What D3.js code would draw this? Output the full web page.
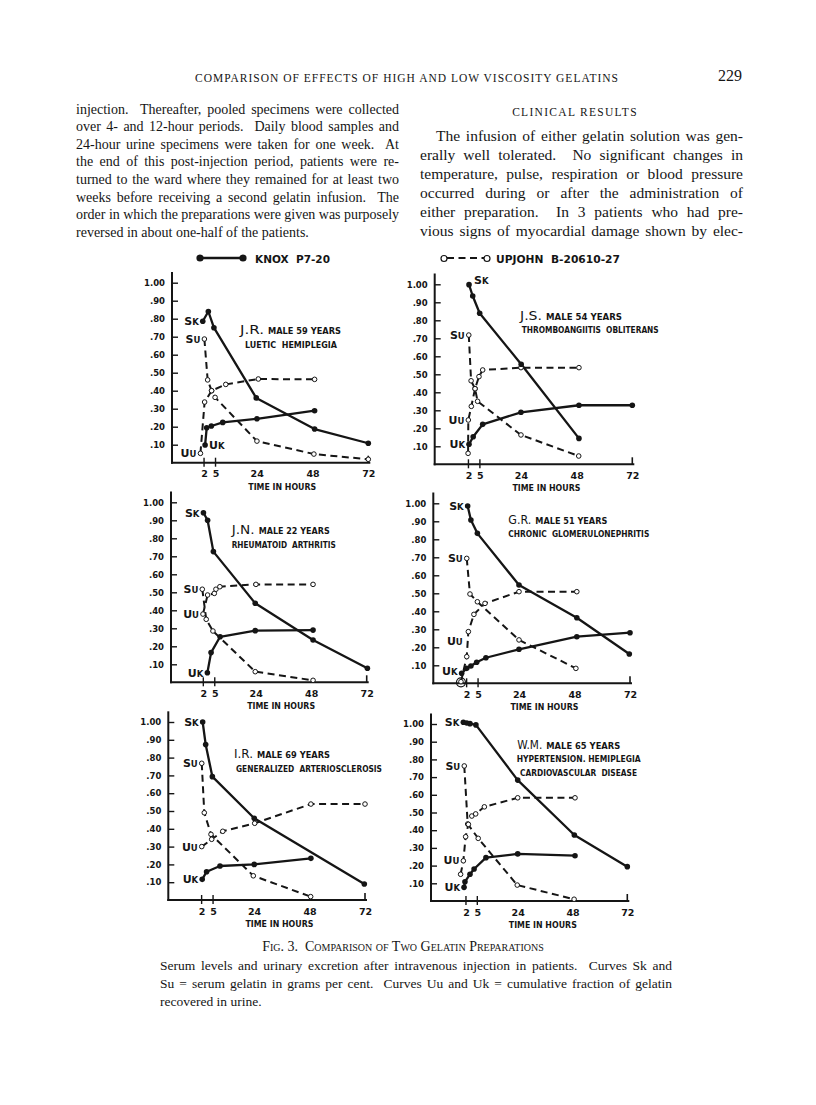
<!DOCTYPE html>
<html><head><meta charset="utf-8">
<script src="https://cdn.jsdelivr.net/npm/d3@7"></script>
<style>body{margin:0;background:#fff}svg{display:block}</style>
</head><body>
<script>
// ---------------- DATA ----------------
const timeTicks = [2, 5, 24, 48, 72];
const timeTickLabels = ["2", "5", "24", "48", "72"];
const valueTicks = [1.0, 0.9, 0.8, 0.7, 0.6, 0.5, 0.4, 0.3, 0.2, 0.1];
const valueTickLabels = ["1.00", ".90", ".80", ".70", ".60", ".50", ".40", ".30", ".20", ".10"];

const patientNames = ["J.R.", "J.S.", "J.N.", "G.R.", "I.R.", "W.M."];
const patientInfo = ["MALE 59 YEARS", "MALE 54 YEARS", "MALE 22 YEARS", "MALE 51 YEARS", "MALE 69 YEARS", "MALE 65 YEARS"];
const patientDiagnosis = [
  ["LUETIC  HEMIPLEGIA"],
  ["THROMBOANGIITIS  OBLITERANS"],
  ["RHEUMATOID  ARTHRITIS"],
  ["CHRONIC  GLOMERULONEPHRITIS"],
  ["GENERALIZED  ARTERIOSCLEROSIS"],
  ["HYPERTENSION. HEMIPLEGIA", "CARDIOVASCULAR  DISEASE"]
];

// [hours, value] — Sk/Uk = Knox P7-20, Su/Uu = Upjohn B-20610-27
const jrSk = [[0.8,0.786],[3.2,0.84],[5.6,0.75],[23.8,0.36],[48.9,0.187],[72,0.108]];
const jrSu = [[1.5,0.687],[2.9,0.46],[4.6,0.40],[6.1,0.363],[24.1,0.12],[48.6,0.048],[72,0.019]];
const jrUu = [[-0.2,0.052],[1.6,0.337],[4.6,0.40],[10.7,0.435],[24.7,0.465],[48.9,0.463]];
const jrUk = [[1.8,0.098],[2.5,0.194],[4.5,0.204],[9.4,0.224],[24.1,0.244],[48.9,0.289]];

const jsSk = [[1.6,0.998],[3.2,0.935],[6.2,0.839],[24.1,0.556],[49,0.144]];
const jsSu = [[1.5,0.718],[2.5,0.464],[4.2,0.42],[5.3,0.35],[24,0.163],[48.9,0.046]];
const jsUu = [[1.2,0.061],[1.3,0.246],[2.6,0.322],[4.2,0.42],[5.9,0.487],[7.5,0.524],[24,0.537],[49,0.537]];
const jsUk = [[1.6,0.111],[3.4,0.153],[7.5,0.222],[24,0.289],[49,0.328],[72,0.328]];

const jnSk = [[1.4,0.942],[3.2,0.90],[5.7,0.726],[23.8,0.439],[48.8,0.235],[72.3,0.078]];
const jnSu = [[0.9,0.517],[2.6,0.35],[5.5,0.285],[23.8,0.059],[48.8,0.011]];
const jnUu = [[1.2,0.379],[3.2,0.485],[6.1,0.494],[6.8,0.517],[8.5,0.531],[24.1,0.544],[48.8,0.544]];
const jnUk = [[3.1,0.053],[4.7,0.165],[8.6,0.253],[23.8,0.287],[48.8,0.29]];

const grSk = [[1.8,0.985],[3.2,0.907],[6.0,0.833],[24,0.546],[49,0.364],[71.7,0.163]];
const grSu = [[1.4,0.694],[2.8,0.496],[6.0,0.453],[24,0.241],[48.6,0.083]];
const grUu = [[-1.1,0.009],[1.4,0.148],[2.1,0.287],[4.5,0.383],[9.3,0.444],[24,0.509],[49,0.509]];
const grUk = [[-0.8,0.056],[1.4,0.083],[3.2,0.096],[5.7,0.117],[9.7,0.142],[24,0.189],[49,0.259],[72,0.281]];

const irSk = [[1.8,1.0],[3.1,0.874],[6.0,0.693],[24.1,0.459],[71.7,0.09]];
const irSu = [[1.4,0.768],[2.5,0.49],[5.4,0.369],[23.7,0.136],[48.5,0.019]];
const irUu = [[1.4,0.30],[5.7,0.341],[10.5,0.386],[24.3,0.431],[48.6,0.539],[72,0.539]];
const irUk = [[1.6,0.116],[3.5,0.159],[9.3,0.191],[24.1,0.20],[48.6,0.234]];

const wmSk = [[0.2,1.01],[1.7,1.006],[3.1,1.002],[5.7,0.995],[24,0.683],[48.8,0.373],[72,0.194]];
const wmSu = [[0.6,0.763],[2.1,0.435],[6.7,0.354],[23.8,0.09],[48.7,0.01]];
const wmUu = [[-1.0,0.151],[0.2,0.227],[1.2,0.363],[2.4,0.433],[3.9,0.48],[5.6,0.492],[9.4,0.532],[24,0.583],[49.1,0.583]];
const wmUk = [[0.5,0.077],[0.9,0.109],[3.1,0.151],[4.9,0.181],[10.1,0.245],[24,0.266],[49.1,0.256]];

const legendLabels = ["KNOX  P7-20", "UPJOHN  B-20610-27"];

const headerText = "COMPARISON OF EFFECTS OF HIGH AND LOW VISCOSITY GELATINS";
const pageNumber = "229";
const leftColumn = [
  "injection.  Thereafter, pooled specimens were collected",
  "over 4- and 12-hour periods.  Daily blood samples and",
  "24-hour urine specimens were taken for one week.  At",
  "the end of this post-injection period, patients were re-",
  "turned to the ward where they remained for at least two",
  "weeks before receiving a second gelatin infusion.  The",
  "order in which the preparations were given was purposely",
  "reversed in about one-half of the patients."
];
const rightHeading = "CLINICAL RESULTS";
const rightColumn = [
  "The infusion of either gelatin solution was gen-",
  "erally well tolerated.  No significant changes in",
  "temperature, pulse, respiration or blood pressure",
  "occurred during or after the administration of",
  "either preparation.  In 3 patients who had pre-",
  "vious signs of myocardial damage shown by elec-"
];
const captionTitle = "Fig. 3.  Comparison of Two Gelatin Preparations";
const captionLines = [
  "Serum levels and urinary excretion after intravenous injection in patients.  Curves Sk and",
  "Su = serum gelatin in grams per cent.  Curves Uu and Uk = cumulative fraction of gelatin",
  "recovered in urine."
];

// ---------------- LAYOUT ----------------
const W = 816, H = 1105;
const INK = "#151515";
const SERIF = "'Liberation Serif','DejaVu Serif',serif";
const SANS = "'DejaVu Sans','Liberation Sans',sans-serif";

const panels = [
  {series:{Sk:jrSk,Su:jrSu,Uu:jrUu,Uk:jrUk}, axisX:172, x0:200.9, x72:368.3, zeroY:462.7, oneY:282.7,
   title:[240,334], diag:[[245,348]],
   lab:{Sk:[0,-4,4,"end"],Su:[0,-4,4,"end"],Uu:[0,-4,4,"end"],Uk:[0,4,4,"start"]}},
  {series:{Sk:jsSk,Su:jsSu,Uu:jsUu,Uk:jsUk}, axisX:434.7, x0:465.3, x72:632.3, zeroY:464.3, oneY:284.3,
   title:[520,320], diag:[[521.7,333]],
   lab:{Sk:[0,5,-1,"start"],Su:[0,-4,4,"end"],Uu:[1,-4,4,"end"],Uk:[0,-4,4,"end"]}},
  {series:{Sk:jnSk,Su:jnSu,Uu:jnUu,Uk:jnUk}, axisX:171, x0:200.2, x72:366.7, zeroY:682.3, oneY:502.3,
   title:[231.7,533.5], diag:[[231.7,547.5]],
   lab:{Sk:[0,-4,4,"end"],Su:[0,-4,4,"end"],Uu:[0,-4,4,"end"],Uk:[0,-4,4,"end"]}},
  {series:{Sk:grSk,Su:grSu,Uu:grUu,Uk:grUk}, axisX:433.3, x0:463.5, x72:630, zeroY:683.3, oneY:503.3,
   title:[508.3,524], diag:[[508.3,537]],
   lab:{Sk:[0,-4,4,"end"],Su:[0,-4,4,"end"],Uu:[1,-4,-12,"end"],Uk:[0,-4,2,"end"]}},
  {series:{Sk:irSk,Su:irSu,Uu:irUu,Uk:irUk}, axisX:168.3, x0:198.5, x72:365, zeroY:900, oneY:722,
   title:[234,758], diag:[[236,772]],
   lab:{Sk:[0,-4,4,"end"],Su:[0,-4,4,"end"],Uu:[0,-4,4,"end"],Uk:[0,-4,4,"end"]}},
  {series:{Sk:wmSk,Su:wmSu,Uu:wmUu,Uk:wmUk}, axisX:431, x0:462.9, x72:627.3, zeroY:901, oneY:724,
   title:[517.3,748.5], diag:[[516.7,762],[520,775.5]],
   lab:{Sk:[0,-4,4,"end"],Su:[0,-4,4,"end"],Uu:[1,-4,3,"end"],Uk:[0,-4,4,"end"]}}
];
const diagWidths = [[92],[137],[104],[141],[146],[124,117]];
const infoWidths = [73,76,71,72,73,74];
const nameWidths = [24,22,23,23,19,25];
const timeLabelShift = [-1.5, 3, 0, 0, 0];

const svg = d3.select("body").append("svg").attr("width", W).attr("height", H)
  .style("background", "#fff");

// helper: text, optionally justified to a width via word-spacing
function text(g, x, y, s, o = {}) {
  const t = g.append("text").attr("x", x).attr("y", y).text(s)
    .attr("fill", INK)
    .style("font-family", o.family || SERIF)
    .style("font-size", (o.size || 14) + "px")
    .style("font-weight", o.weight || "normal")
    .attr("text-anchor", o.anchor || "start")
    .style("white-space", "pre");
  if (o.variant) t.style("font-variant", o.variant);
  if (o.spacing) t.style("letter-spacing", o.spacing + "px");
  if (o.width) {
    const nat = t.node().getComputedTextLength();
    const spaces = (s.match(/ /g) || []).length;
    if (o.justify && spaces > 0 && nat < o.width) {
      t.style("word-spacing", ((o.width - nat) / spaces) + "px");
    } else {
      t.attr("textLength", o.width).attr("lengthAdjust", o.glyphs ? "spacingAndGlyphs" : "spacing");
    }
  }
  return t;
}

// ---------- page header ----------
text(svg, 195, 81.5, headerText, {size: 11.5, width: 423});
text(svg, 742, 81, pageNumber, {size: 16, anchor: "end"});

// ---------- left column ----------
leftColumn.forEach((s, i) => {
  const last = i === leftColumn.length - 1;
  text(svg, 76, 113.5 + i * 17.6, s, {size: 14, width: last ? null : 323, justify: true});
});

// ---------- right column ----------
text(svg, 575, 115.5, rightHeading, {size: 11.5, anchor: "middle", spacing: 1.3});
rightColumn.forEach((s, i) => {
  const x0 = i === 0 ? 436 : 420;
  text(svg, x0, 140.5 + i * 19.1, s, {size: 15.5, width: 743 - x0, justify: true});
});

// ---------- legend ----------
const leg = svg.append("g");
leg.append("line").attr("x1", 200).attr("x2", 243).attr("y1", 258).attr("y2", 258)
  .attr("stroke", INK).attr("stroke-width", 2.6);
[200, 243].forEach(cx => leg.append("circle").attr("cx", cx).attr("cy", 258).attr("r", 3.6).attr("fill", INK));
text(leg, 255, 262.5, legendLabels[0], {family: SANS, size: 11, weight: "bold", width: 75, glyphs: true});
leg.append("line").attr("x1", 447).attr("x2", 484).attr("y1", 258).attr("y2", 258)
  .attr("stroke", INK).attr("stroke-width", 2).attr("stroke-dasharray", "7,4.5");
[444, 487].forEach(cx => leg.append("circle").attr("cx", cx).attr("cy", 258.5).attr("r", 3)
  .attr("fill", "#fff").attr("stroke", INK).attr("stroke-width", 1.2));
text(leg, 496, 262.5, legendLabels[1], {family: SANS, size: 11, weight: "bold", width: 124, glyphs: true});

// ---------- panels ----------
const line = (x, y) => d3.line().x(d => x(d[0])).y(d => y(d[1]));

panels.forEach((p, pi) => {
  const g = svg.append("g");
  const x = d3.scaleLinear().domain([0, 72]).range([p.x0, p.x72]);
  const y = d3.scaleLinear().domain([0, 1]).range([p.zeroY, p.oneY]);

  // y axis
  const ya = g.append("g").attr("transform", `translate(${p.axisX},0)`)
    .call(d3.axisLeft(y).tickValues(valueTicks)
      .tickFormat((d, i) => valueTickLabels[i])
      .tickSizeInner(-6).tickSizeOuter(0).tickPadding(7));
  ya.select(".domain").remove();
  ya.selectAll(".tick line").attr("stroke", INK).attr("stroke-width", 1.4);
  ya.selectAll(".tick text").attr("fill", INK)
    .style("font-family", SANS).style("font-size", "8.5px").style("font-weight", "bold");
  g.append("line").attr("x1", p.axisX).attr("x2", p.axisX)
    .attr("y1", y(0) + 1).attr("y2", y(1.06))
    .attr("stroke", INK).attr("stroke-width", 2);

  // x axis
  const xa = g.append("g").attr("transform", `translate(0,${p.zeroY})`)
    .call(d3.axisBottom(x).tickValues(timeTicks)
      .tickFormat((d, i) => timeTickLabels[i])
      .tickSizeInner(0).tickSizeOuter(0).tickPadding(8));
  xa.select(".domain").remove();
  xa.selectAll(".tick line").remove();
  xa.selectAll(".tick text").attr("fill", INK)
    .attr("dx", (d, i) => timeLabelShift[i])
    .style("font-family", SANS).style("font-size", "9.5px").style("font-weight", "bold");
  g.append("line").attr("x1", p.axisX - 1).attr("x2", x(72) + 2)
    .attr("y1", p.zeroY).attr("y2", p.zeroY)
    .attr("stroke", INK).attr("stroke-width", 2);
  [2, 5].forEach((t, i) => g.append("line").attr("x1", x(t) + timeLabelShift[i]).attr("x2", x(t) + timeLabelShift[i])
    .attr("y1", p.zeroY - 5).attr("y2", p.zeroY + 4).attr("stroke", INK).attr("stroke-width", 1.4));
  g.append("line").attr("x1", x(72)).attr("x2", x(72))
    .attr("y1", p.zeroY - 7).attr("y2", p.zeroY).attr("stroke", INK).attr("stroke-width", 1.6);

  text(g, x(35), p.zeroY + 27, "TIME IN HOURS", {family: SANS, size: 9.5, weight: "bold",
    anchor: "middle", width: 68, glyphs: true});

  // titles
  text(g, p.title[0], p.title[1], patientNames[pi], {family: SANS, size: 12.5, width: nameWidths[pi], glyphs: true});
  text(g, p.title[0] + nameWidths[pi] + 4, p.title[1], patientInfo[pi],
    {family: SANS, size: 9.5, weight: "bold", width: infoWidths[pi], glyphs: true});
  p.diag.forEach((pos, j) => text(g, pos[0], pos[1], patientDiagnosis[pi][j],
    {family: SANS, size: 9, weight: "bold", width: diagWidths[pi][j], glyphs: true}));

  // curves
  const mk = line(x, y);
  ["Su", "Uu"].forEach(k => {
    g.append("path").datum(p.series[k]).attr("d", mk).attr("fill", "none")
      .attr("stroke", INK).attr("stroke-width", 2).attr("stroke-dasharray", "7,4.5");
  });
  ["Sk", "Uk"].forEach(k => {
    g.append("path").datum(p.series[k]).attr("d", mk).attr("fill", "none")
      .attr("stroke", INK).attr("stroke-width", 2.3).attr("stroke-linejoin", "round");
  });
  ["Su", "Uu"].forEach(k => {
    g.selectAll(null).data(p.series[k]).enter().append("circle")
      .attr("cx", d => x(d[0])).attr("cy", d => y(d[1])).attr("r", 2.3)
      .attr("fill", "#fff").attr("stroke", INK).attr("stroke-width", 1);
  });
  ["Sk", "Uk"].forEach(k => {
    g.selectAll(null).data(p.series[k]).enter().append("circle")
      .attr("cx", d => x(d[0])).attr("cy", d => y(d[1])).attr("r", 2.8).attr("fill", INK);
  });
  if (pi === 3) {
    g.append("circle").attr("cx", x(grUu[0][0])).attr("cy", y(0) - 1).attr("r", 4.5)
      .attr("fill", "none").attr("stroke", INK).attr("stroke-width", 1.2);
  }

  // curve labels
  Object.entries(p.lab).forEach(([k, [idx, dx, dy, anchor]]) => {
    const d = p.series[k][idx];
    const t = g.append("text").attr("x", x(d[0]) + dx).attr("y", y(d[1]) + dy)
      .attr("text-anchor", anchor).attr("fill", INK)
      .style("font-family", SANS).style("font-weight", "bold");
    t.append("tspan").text(k[0]).style("font-size", "11px");
    t.append("tspan").text(k[1].toUpperCase()).style("font-size", "8.5px");
  });
});

// ---------- caption ----------
text(svg, 403, 951, captionTitle, {size: 14, anchor: "middle", variant: "small-caps"});
captionLines.forEach((s, i) => {
  const last = i === captionLines.length - 1;
  text(svg, 160, 970 + i * 18, s, {size: 13.5, width: last ? null : 512, justify: true});
});
</script>
</body></html>
